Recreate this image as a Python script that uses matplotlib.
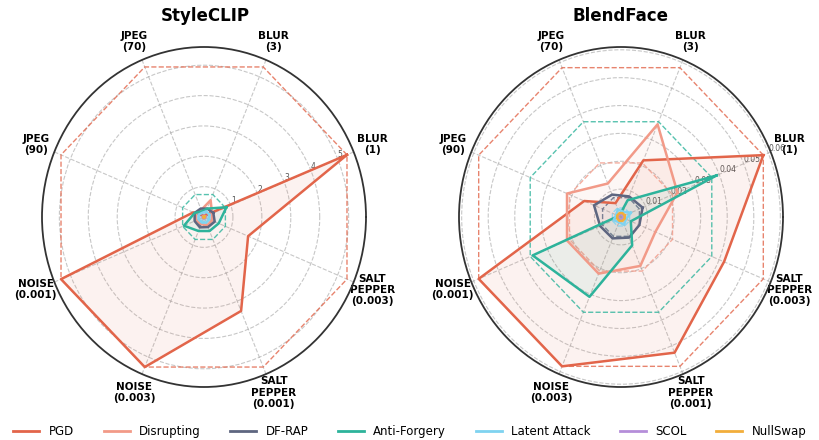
import numpy as np
import matplotlib
matplotlib.use("Agg")
import matplotlib.pyplot as plt
from matplotlib.lines import Line2D

categories = ['BLUR\n(1)', 'BLUR\n(3)', 'JPEG\n(70)', 'JPEG\n(90)',
              'NOISE\n(0.001)', 'NOISE\n(0.003)',
              'SALT\nPEPPER\n(0.001)', 'SALT\nPEPPER\n(0.003)']
methods = ['PGD', 'Disrupting', 'DF-RAP', 'Anti-Forgery', 'Latent Attack', 'SCOL', 'NullSwap']
colors = ['#E2654A', '#F29A88', '#5E6680', '#2DB39B', '#7FD3F0', '#B58ED9', '#F2AE3B']

# StyleCLIP (perturbed values per method)
pgd_s = [5.35, 0.05, 0.05, 0.40, 5.35, 5.35, 3.35, 1.65]
disrupting_s = [0.30, 0.60, 0.25, 0.30, 0.30, 0.25, 0.30, 0.30]
dfrap_s = [0.35, 0.30, 0.30, 0.35, 0.35, 0.37, 0.36, 0.40]
antiforgery_s = [0.84, 0.30, 0.20, 0.35, 0.75, 0.50, 0.50, 0.55]
latent_s = [0.20, 0.20, 0.15, 0.20, 0.20, 0.20, 0.20, 0.20]
scol_s = [0.05, 0.05, 0.05, 0.05, 0.05, 0.05, 0.05, 0.05]
nullswap_s = [0.03, 0.03, 0.03, 0.03, 0.03, 0.03, 0.03, 0.03]
ref_s = [5.35, 0.30, 0.30, 0.80, 0.15, 0.05, 0.03]   # dashed reference per method
rmax_s = 5.6
rticks_s = [1, 2, 3, 4, 5]
rticklabels_s = ['1', '2', '3', '4', '5']

# BlendFace
pgd_b = [0.058, 0.022, 0.0054, 0.015, 0.058, 0.058, 0.0527, 0.042]
disrupting_b = [0.023, 0.036, 0.013, 0.022, 0.022, 0.022, 0.019, 0.014]
dfrap_b = [0.0088, 0.0080, 0.0087, 0.0110, 0.0085, 0.0083, 0.0080, 0.0075]
antiforgery_b = [0.039, 0.0065, 0.001, 0.001, 0.036, 0.031, 0.011, 0.004]
latent_b = [0.004, 0.002, 0.003, 0.002, 0.003, 0.002, 0.003, 0.002]
scol_b = [0.001, 0.001, 0.001, 0.001, 0.001, 0.001, 0.001, 0.001]
nullswap_b = [0.0015, 0.0015, 0.0015, 0.0015, 0.0015, 0.0015, 0.0015, 0.0015]
ref_b = [0.058, 0.021, 0.0075, 0.037, 0.0035, 0.001, 0.0015]
rmax_b = 0.061
rticks_b = [0.01, 0.02, 0.03, 0.04, 0.05, 0.06]
rticklabels_b = ['0.01', '0.02', '0.03', '0.04', '0.05', '0.06']

angles = np.deg2rad(22.5 + 45 * np.arange(len(categories)))
closed = np.concatenate([angles, angles[:1]])

fig = plt.figure(figsize=(8.2, 4.4), dpi=100)
fig.patch.set_facecolor('white')

def radar(ax, series, refs, rmax, rticks, rlabels, title, cx):
    ax.set_aspect('auto')
    ax.set_ylim(0, rmax)
    ax.set_xticks(angles)
    ax.set_xticklabels(categories, fontsize=7.5, fontweight='bold', linespacing=1.15)
    ax.tick_params(axis='x', pad=4)
    ax.set_yticks(rticks)
    ax.set_yticklabels(rlabels, fontsize=5.5, color='#555555')
    ax.set_rlabel_position(22.5)
    ax.grid(True, linestyle='--', color='#9a9a9a', alpha=0.55, linewidth=0.8)
    ax.spines['polar'].set_color('#333333')
    ax.spines['polar'].set_linewidth(1.3)
    for vals, ref, col in zip(series, refs, colors):
        v = np.concatenate([vals, vals[:1]])
        ax.plot(closed, v, color=col, linewidth=1.8, zorder=3)
        ax.fill(closed, v, color=col, alpha=0.08, zorder=2)
        rr = np.full(len(closed), ref)
        ax.plot(closed, rr, color=col, linewidth=1.0, linestyle='--', alpha=0.8, zorder=2)
    fig.text(cx, 1 - 16 / 440, title, ha='center', va='center', fontsize=12, fontweight='bold')

RX, RY = 162, 170
ax1 = fig.add_axes([(204 - RX) / 820, (440 - 217 - RY) / 440, 2 * RX / 820, 2 * RY / 440], projection='polar')
ax2 = fig.add_axes([(621 - RX) / 820, (440 - 217 - RY) / 440, 2 * RX / 820, 2 * RY / 440], projection='polar')

radar(ax1, [pgd_s, disrupting_s, dfrap_s, antiforgery_s, latent_s, scol_s, nullswap_s],
      ref_s, rmax_s, rticks_s, rticklabels_s, 'StyleCLIP', 205 / 820)
radar(ax2, [pgd_b, disrupting_b, dfrap_b, antiforgery_b, latent_b, scol_b, nullswap_b],
      ref_b, rmax_b, rticks_b, rticklabels_b, 'BlendFace', 621 / 820)

handles = [Line2D([0], [0], color=c, linewidth=2) for c in colors]
fig.legend(handles, methods, loc='center', bbox_to_anchor=(0.5, 0.02), ncol=7,
           frameon=False, fontsize=8.5, handlelength=2.2, columnspacing=2.5, handletextpad=0.8)

fig.savefig('out.png', dpi=100, facecolor='white')
